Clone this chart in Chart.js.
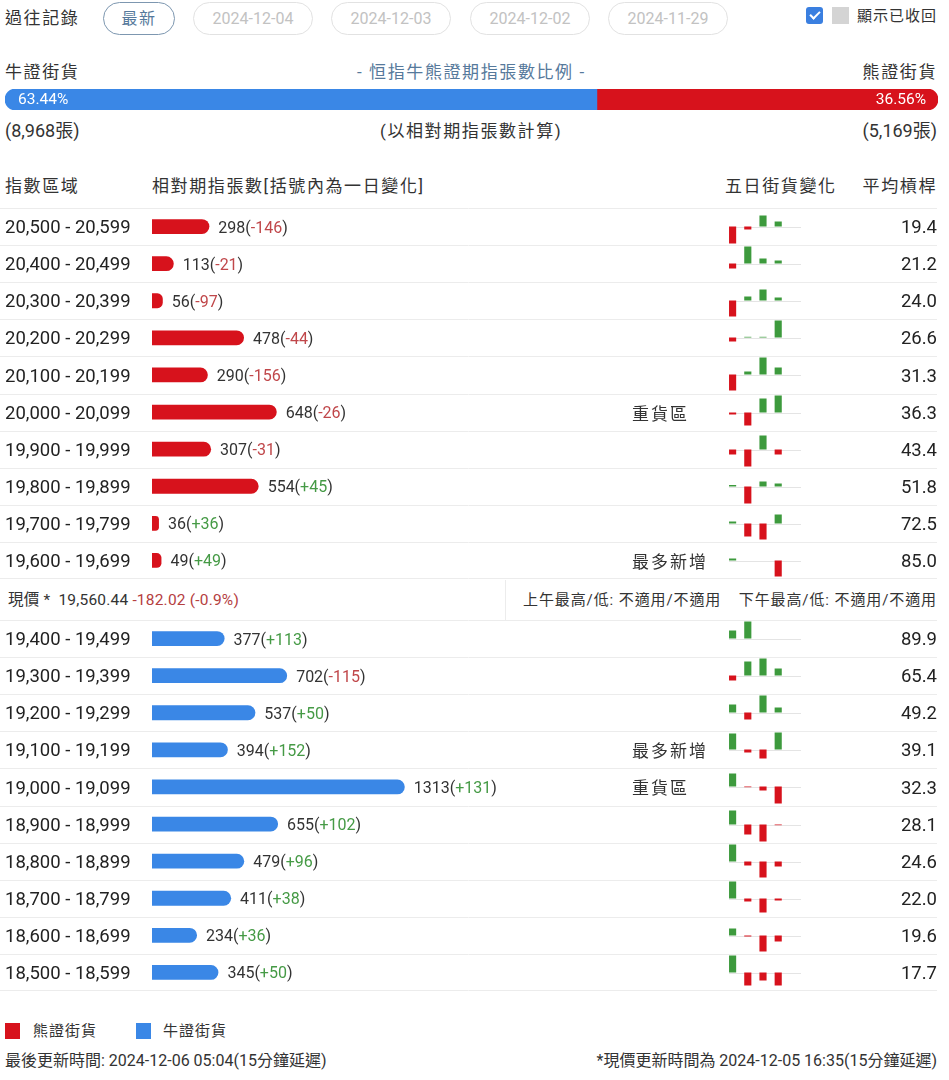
<!DOCTYPE html>
<html>
<head>
<meta charset="utf-8">
<script src="https://cdn.jsdelivr.net/npm/chart.js@4.4.1/dist/chart.umd.min.js"></script>
<style>
body { margin: 0; background: #fff; font-family: Roboto, "Noto Sans CJK TC", sans-serif; color: #333; }
#page { position: relative; width: 949px; height: 1080px; overflow: hidden; }
.t { position: absolute; white-space: nowrap; height: 24px; line-height: 24px; font-size: 17px; }
.cjk { letter-spacing: 1.6px; }
.r { text-align: right; }
.pill { position: absolute; top: 2px; height: 31px; line-height: 31px; border: 1px solid #e2e2e2; border-radius: 17px;
        text-align: center; font-size: 16px; color: #c2c2c2; }
canvas { position: absolute; }
</style>
</head>
<body>
<div id="page">
  <div class="t cjk" style="left:5px;top:6px;">過往記錄</div>
  <div class="pill cjk" style="left:103px;width:70px;border-color:#7d97b0;color:#56799b;">最新</div>
  <div class="pill" style="left:193px;width:118px;">2024-12-04</div>
  <div class="pill" style="left:331px;width:118px;">2024-12-03</div>
  <div class="pill" style="left:470px;width:118px;">2024-12-02</div>
  <div class="pill" style="left:608px;width:118px;">2024-11-29</div>
  <div style="position:absolute;left:806px;top:7px;width:17px;height:17px;background:#3a7fe0;border-radius:3px;">
    <div style="position:absolute;left:6px;top:2px;width:4px;height:8px;border-right:2px solid #fff;border-bottom:2px solid #fff;transform:rotate(45deg);"></div>
  </div>
  <div style="position:absolute;left:832px;top:7px;width:17px;height:17px;background:#d4d4d4;"></div>
  <div class="t" style="left:857px;top:4px;font-size:15px;letter-spacing:1px;">顯示已收回</div>

  <div class="t cjk" style="left:5px;top:60px;">牛證街貨</div>
  <div class="t cjk" style="left:357px;top:60px;color:#56799b;">- 恒指牛熊證期指張數比例 -</div>
  <div class="t cjk r" style="right:12px;top:60px;">熊證街貨</div>
  <canvas id="ratio" width="949" height="21" style="left:0;top:89px;"></canvas>
  <div class="t" style="left:5px;top:119px;font-size:18px;">(8,968張)</div>
  <div class="t cjk" style="left:380px;top:119px;">(以相對期指張數計算)</div>
  <div class="t r" style="right:12px;top:119px;font-size:18px;">(5,169張)</div>

  <div class="t cjk" style="left:5px;top:174px;">指數區域</div>
  <div class="t cjk" style="left:152px;top:174px;">相對期指張數[括號內為一日變化]</div>
  <div class="t cjk" style="left:725px;top:174px;">五日街貨變化</div>
  <div class="t cjk r" style="right:12px;top:174px;">平均槓桿</div>

  <canvas id="bearChart" width="949" height="371" style="left:0;top:208px;"></canvas>

  <div class="t" style="left:8px;top:588px;font-size:15.5px;letter-spacing:0.2px;">現價 *&nbsp; 19,560.44 <span style="color:#b5403f;">-182.02 (-0.9%)</span></div>
  <div style="position:absolute;left:505px;top:580px;width:1px;height:40px;background:#ececec;"></div>
  <div class="t" style="left:523px;top:588px;font-size:15px;letter-spacing:0.9px;">上午最高/低: 不適用/不適用</div>
  <div class="t r" style="right:12px;top:588px;font-size:15px;letter-spacing:0.9px;">下午最高/低: 不適用/不適用</div>

  <canvas id="bullChart" width="949" height="371" style="left:0;top:620px;"></canvas>

  <div style="position:absolute;left:5px;top:1023px;width:15px;height:16px;background:#d7121c;"></div>
  <div class="t" style="left:33px;top:1019px;font-size:15px;letter-spacing:1px;">熊證街貨</div>
  <div style="position:absolute;left:136px;top:1023px;width:15px;height:16px;background:#3a87e6;"></div>
  <div class="t" style="left:163px;top:1019px;font-size:15px;letter-spacing:1px;">牛證街貨</div>
  <div class="t" style="left:5px;top:1049px;font-size:16px;">最後更新時間: 2024-12-06 05:04(15分鐘延遲)</div>
  <div class="t r" style="right:12px;top:1049px;font-size:16px;">*現價更新時間為 2024-12-05 16:35(15分鐘延遲)</div>
</div>

<script>
const RED = '#d7121c';
const BLUE = '#3a87e6';
const GREEN = '#3d9a3d';
const UP = '#459a45';
const DOWN = '#c0474a';

const bullShare = [63.44];
const bearShare = [36.56];

const bearRanges = ['20,500 - 20,599', '20,400 - 20,499', '20,300 - 20,399', '20,200 - 20,299', '20,100 - 20,199',
                    '20,000 - 20,099', '19,900 - 19,999', '19,800 - 19,899', '19,700 - 19,799', '19,600 - 19,699'];
const bearCounts = [298, 113, 56, 478, 290, 648, 307, 554, 36, 49];
const bearChanges = [-146, -21, -97, -44, -156, -26, -31, 45, 36, 49];
const bearLeverage = ['19.4', '21.2', '24.0', '26.6', '31.3', '36.3', '43.4', '51.8', '72.5', '85.0'];
const bearNotes = ['', '', '', '', '', '重貨區', '', '', '', '最多新增'];
const bearFiveDay = [
  [-17, -3, 11, 5, 0],
  [-5, 17, 5, 3, 0],
  [-16, 4, 11, 3, 0],
  [-4, 0.7, 0.7, 17, 0],
  [-16, 3, 17, 7, 0],
  [-2, -13, 14, 17, 0],
  [-5, -17, 14, -5, 0],
  [1.5, -17, 5, 3, 0],
  [2, -13, -16, 9, 0],
  [2, 0, 0, -16, 0]
];

const bullRanges = ['19,400 - 19,499', '19,300 - 19,399', '19,200 - 19,299', '19,100 - 19,199', '19,000 - 19,099',
                    '18,900 - 18,999', '18,800 - 18,899', '18,700 - 18,799', '18,600 - 18,699', '18,500 - 18,599'];
const bullCounts = [377, 702, 537, 394, 1313, 655, 479, 411, 234, 345];
const bullChanges = [113, -115, 50, 152, 131, 102, 96, 38, 36, 50];
const bullLeverage = ['89.9', '65.4', '49.2', '39.1', '32.3', '28.1', '24.6', '22.0', '19.6', '17.7'];
const bullNotes = ['', '', '', '最多新增', '重貨區', '', '', '', '', ''];
const bullFiveDay = [
  [8, 17, 0, 0, 0],
  [-5, 14, 17, 7, 0],
  [8, -7, 17, 5, 0],
  [16, -3, -9, 17, 0],
  [13, -0.7, -4, -17, 0],
  [14, -10, -17, -0.7, 0],
  [17, -4, -16, -5, 0],
  [17, -3, -14, -2, 0],
  [7, -1, -16, -6, 0],
  [17, -13, -8, -13, 0]
];

// ratio bar
const ratioText = {
  id: 'ratioText',
  afterDatasetsDraw(chart) {
    const ctx = chart.ctx;
    const b = chart.getDatasetMeta(0).data[0];
    const r = chart.getDatasetMeta(1).data[0];
    ctx.save();
    ctx.font = '15.5px Roboto';
    ctx.fillStyle = '#fff';
    ctx.textBaseline = 'middle';
    ctx.textAlign = 'left';
    ctx.fillText(bullShare[0].toFixed(2) + '%', b.base + 13, b.y + 1);
    ctx.textAlign = 'right';
    ctx.fillText(bearShare[0].toFixed(2) + '%', r.x - 12, r.y + 1);
    ctx.restore();
  }
};

new Chart(document.getElementById('ratio'), {
  type: 'bar',
  data: {
    labels: ['ratio'],
    datasets: [
      { data: bullShare, backgroundColor: BLUE, borderSkipped: false,
        borderRadius: { topLeft: 11, bottomLeft: 11, topRight: 0, bottomRight: 0 } },
      { data: bearShare, backgroundColor: RED, borderSkipped: false,
        borderRadius: { topLeft: 0, bottomLeft: 0, topRight: 11, bottomRight: 11 } }
    ]
  },
  options: {
    indexAxis: 'y',
    responsive: false,
    animation: false,
    barPercentage: 1,
    categoryPercentage: 1,
    layout: { padding: { left: 5, right: 11 } },
    plugins: { legend: { display: false }, tooltip: { enabled: false } },
    scales: {
      x: { display: false, stacked: true, min: 0, max: 100 },
      y: { display: false, stacked: true }
    }
  },
  plugins: [ratioText]
});

// row lines + labels
const rowLines = {
  id: 'rowLines',
  beforeDraw(chart) {
    const ctx = chart.ctx;
    const y = chart.scales.y;
    ctx.save();
    ctx.strokeStyle = '#ececec';
    ctx.lineWidth = 1;
    for (let i = 0; i <= y.getLabels().length; i++) {
      const py = Math.min(Math.round(y.getPixelForValue(i - 0.5)) + 0.5, chart.height - 0.5);
      ctx.beginPath();
      ctx.moveTo(0, py);
      ctx.lineTo(937, py);
      ctx.stroke();
    }
    ctx.restore();
  }
};

const valueLabels = {
  id: 'valueLabels',
  afterDatasetsDraw(chart, args, opts) {
    const ctx = chart.ctx;
    const counts = chart.data.datasets[0].data;
    ctx.save();
    ctx.textBaseline = 'middle';
    ctx.textAlign = 'left';
    chart.getDatasetMeta(0).data.forEach((bar, i) => {
      ctx.font = '16px Roboto';
      let x = bar.x + 9;
      const c = opts.changes[i];
      const parts = [[counts[i] + '(', '#333'], [(c > 0 ? '+' : '') + c, c < 0 ? DOWN : UP], [')', '#333']];
      parts.forEach(([s, col]) => {
        ctx.fillStyle = col;
        ctx.fillText(s, x, bar.y + 2);
        x += ctx.measureText(s).width;
      });
      if (opts.notes[i]) {
        ctx.font = '17px "Noto Sans CJK TC"';
        ctx.letterSpacing = '2px';
        ctx.fillStyle = '#333';
        ctx.fillText(opts.notes[i], 632, bar.y + 1);
        ctx.letterSpacing = '0px';
      }
    });
    ctx.restore();
  }
};

const baseline = {
  id: 'baseline',
  beforeDatasetsDraw(chart) {
    const ctx = chart.ctx;
    const y = Math.round(chart.scales.y.getPixelForValue(0)) + 0.5;
    ctx.save();
    ctx.strokeStyle = '#e4e4e4';
    ctx.lineWidth = 1;
    ctx.beginPath();
    ctx.moveTo(chart.chartArea.left + 4, y);
    ctx.lineTo(chart.chartArea.right, y);
    ctx.stroke();
    ctx.restore();
  }
};

// no label padding above/below the rows, so each row is exactly 1/10 of the canvas
function noPad(width) {
  return s => { s.width = width; s.paddingTop = 0; s.paddingBottom = 0; };
}

function makeTable(id, ranges, counts, changes, leverage, notes, color, fiveDay) {
  const canvas = document.getElementById(id);
  const chart = new Chart(canvas, {
    type: 'bar',
    data: {
      labels: ranges,
      datasets: [{ data: counts, backgroundColor: color, borderRadius: 8, barPercentage: 0.8, categoryPercentage: 0.5 }]
    },
    options: {
      indexAxis: 'y',
      responsive: false,
      animation: false,
      layout: { padding: { left: 5, right: 12, top: 0, bottom: 0 } },
      plugins: {
        legend: { display: false },
        tooltip: { enabled: false },
        valueLabels: { changes: changes, notes: notes }
      },
      scales: {
        x: { display: false, min: 0, max: 2000 },
        y: {
          position: 'left',
          grid: { display: false },
          border: { display: false },
          ticks: { crossAlign: 'far', labelOffset: 2, color: '#222', font: { family: 'Roboto', size: 18.5 } },
          afterFit: noPad(147)
        },
        y2: {
          type: 'category',
          labels: leverage,
          position: 'right',
          offset: true,
          grid: { display: false },
          border: { display: false },
          ticks: { crossAlign: 'far', labelOffset: 2, color: '#222', font: { family: 'Roboto', size: 18.5 } },
          afterFit: noPad(400)
        }
      }
    },
    plugins: [rowLines, valueLabels]
  });

  // five day mini charts, one per row
  const top = parseFloat(canvas.style.top);
  fiveDay.forEach((vals, i) => {
    const c = document.createElement('canvas');
    c.width = 76;
    c.height = 37;
    c.style.left = '725px';
    c.style.top = Math.round(top + chart.scales.y.getPixelForValue(i) - 18.5) + 'px';
    document.getElementById('page').appendChild(c);
    new Chart(c, {
      type: 'bar',
      data: {
        labels: ['1', '2', '3', '4', '5'],
        datasets: [{ data: vals, backgroundColor: vals.map(v => v >= 0 ? GREEN : RED),
                     barPercentage: 0.47, categoryPercentage: 1 }]
      },
      options: {
        responsive: false,
        animation: false,
        layout: { padding: 0 },
        plugins: { legend: { display: false }, tooltip: { enabled: false } },
        scales: {
          x: { display: false },
          y: { display: false, min: -18.5, max: 18.5 }
        }
      },
      plugins: [baseline]
    });
  });
}

makeTable('bearChart', bearRanges, bearCounts, bearChanges, bearLeverage, bearNotes, RED, bearFiveDay);
makeTable('bullChart', bullRanges, bullCounts, bullChanges, bullLeverage, bullNotes, BLUE, bullFiveDay);
</script>
</body>
</html>
